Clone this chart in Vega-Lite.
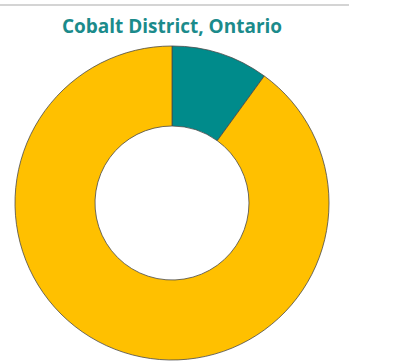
{
  "$schema": "https://vega.github.io/schema/vega-lite/v6.json",
  "width": 344,
  "height": 314,
  "autosize": {"type": "none"},
  "padding": {"left": 0, "top": 46, "right": 52, "bottom": 2},
  "background": "white",
  "title": {
    "text": "Cobalt District, Ontario",
    "font": "Open Sans",
    "fontSize": 19,
    "fontWeight": "bold",
    "color": "#1b8b8b",
    "anchor": "middle",
    "frame": "group",
    "offset": -33
  },
  "config": {"view": {"stroke": null}},
  "layer": [
    {
      "data": {"values": [{"line": "header"}]},
      "mark": {"type": "rule", "color": "#d4d4d4", "strokeWidth": 2},
      "encoding": {
        "x": {"value": 0},
        "x2": {"value": 349},
        "y": {"value": -41}
      }
    },
    {
      "data": {
        "values": [
          {"category": "Cobalt", "share": 10, "order": 1},
          {"category": "Other", "share": 90, "order": 2}
        ]
      },
      "mark": {
        "type": "arc",
        "outerRadius": 157,
        "innerRadius": 77,
        "stroke": "#4a4a4a",
        "strokeWidth": 0.8
      },
      "encoding": {
        "theta": {"field": "share", "type": "quantitative", "stack": true},
        "order": {"field": "order"},
        "color": {
          "field": "category",
          "type": "nominal",
          "scale": {"domain": ["Cobalt", "Other"], "range": ["#008b8b", "#ffc000"]},
          "legend": null
        }
      }
    }
  ]
}
